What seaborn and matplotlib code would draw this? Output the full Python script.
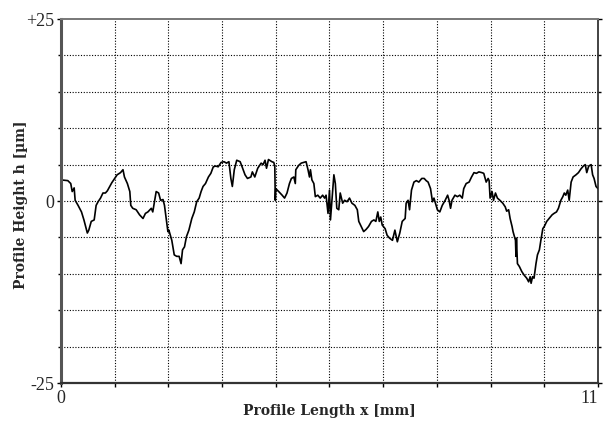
import matplotlib
matplotlib.use("Agg")
import matplotlib.pyplot as plt
import numpy as np
import pandas as pd
import seaborn as sns

# Surface roughness profile: position along the trace (mm) and height (µm)
x_mm = [
    0.00, 0.14, 0.20, 0.23, 0.27, 0.29, 0.35, 0.42, 0.47, 0.54, 0.57, 0.62, 0.68,
    0.72, 0.76, 0.81, 0.86, 0.91, 0.95, 1.00, 1.04, 1.10, 1.15, 1.22, 1.27, 1.30,
    1.36, 1.41, 1.43, 1.47, 1.54, 1.61, 1.68, 1.73, 1.78, 1.85, 1.88, 1.95, 2.00,
    2.04, 2.09, 2.12, 2.16, 2.19, 2.21, 2.27, 2.32, 2.37, 2.42, 2.46, 2.49, 2.53,
    2.57, 2.62, 2.68, 2.73, 2.78, 2.83, 2.87, 2.91, 2.96, 3.02, 3.07, 3.12, 3.17,
    3.22, 3.28, 3.34, 3.39, 3.44, 3.48, 3.51, 3.55, 3.60, 3.67, 3.71, 3.77, 3.82,
    3.89, 3.92, 3.97, 4.03, 4.10, 4.14, 4.18, 4.21, 4.25, 4.32, 4.36, 4.38, 4.39,
    4.40, 4.46, 4.53, 4.58, 4.63, 4.68, 4.72, 4.77, 4.80, 4.81, 4.87, 4.92, 4.97,
    5.02, 5.06, 5.09, 5.11, 5.14, 5.18, 5.21, 5.26, 5.31, 5.36, 5.40, 5.43, 5.47,
    5.50, 5.52, 5.55, 5.59, 5.62, 5.65, 5.69, 5.72, 5.77, 5.81, 5.86, 5.91, 5.96,
    6.02, 6.07, 6.10, 6.15, 6.20, 6.25, 6.30, 6.36, 6.41, 6.45, 6.49, 6.52, 6.55,
    6.58, 6.64, 6.68, 6.73, 6.79, 6.84, 6.89, 6.94, 6.99, 7.05, 7.07, 7.11, 7.14,
    7.18, 7.23, 7.28, 7.33, 7.39, 7.44, 7.48, 7.52, 7.57, 7.61, 7.64, 7.67, 7.71,
    7.76, 7.81, 7.87, 7.92, 7.95, 7.98, 8.01, 8.07, 8.12, 8.17, 8.22, 8.25, 8.30,
    8.36, 8.41, 8.46, 8.51, 8.56, 8.62, 8.66, 8.71, 8.75, 8.77, 8.79, 8.83, 8.86,
    8.90, 8.94, 8.99, 9.05, 9.10, 9.13, 9.17, 9.20, 9.24, 9.26, 9.31, 9.32, 9.33,
    9.35, 9.39, 9.44, 9.49, 9.54, 9.58, 9.61, 9.63, 9.66, 9.69, 9.73, 9.76, 9.80,
    9.83, 9.87, 9.90, 9.95, 10.00, 10.06, 10.10, 10.15, 10.19, 10.24, 10.28, 10.31,
    10.34, 10.38, 10.41, 10.45, 10.49, 10.55, 10.60, 10.65, 10.70, 10.74, 10.77,
    10.81, 10.86, 10.89, 10.92, 10.96, 11.00,
]
h_um = [
    2.9, 2.8, 2.4, 1.3, 1.8, 0.1, -0.6, -1.5, -2.6, -4.4, -4.0, -2.8, -2.6,
    -0.6, -0.1, 0.4, 1.1, 1.1, 1.4, 2.0, 2.5, 3.1, 3.6, 3.9, 4.3, 3.3,
    2.4, 1.3, -0.6, -1.0, -1.2, -1.9, -2.4, -1.7, -1.5, -1.0, -1.5, 1.3, 1.1,
    0.1, 0.2, -0.6, -2.6, -4.2, -4.0, -5.4, -7.4, -7.6, -7.6, -8.6, -6.7, -6.3,
    -4.9, -4.0, -2.4, -1.5, -0.1, 0.4, 1.3, 2.0, 2.4, 3.3, 3.8, 4.7, 4.8,
    4.7, 5.3, 5.4, 5.2, 5.4, 3.1, 2.0, 4.3, 5.6, 5.4, 4.7, 3.6, 3.1,
    3.3, 4.0, 3.3, 4.5, 5.2, 5.0, 5.6, 4.5, 5.7, 5.4, 5.3, 4.7, 0.1,
    1.7, 1.3, 0.8, 0.4, 1.1, 2.4, 3.1, 3.3, 2.4, 4.3, 4.9, 5.2, 5.3,
    5.4, 4.3, 3.3, 4.3, 2.9, 2.4, 0.6, 0.8, 0.4, 0.8, 0.4, 0.8, -1.7,
    1.5, -2.6, 0.1, 3.6, 2.4, -1.0, -1.2, 1.1, -0.3, 0.1, -0.1, 0.4, -0.3,
    -0.6, -1.2, -2.8, -3.5, -4.2, -3.9, -3.5, -2.8, -2.6, -2.8, -1.5, -2.8, -2.2,
    -3.3, -3.8, -4.7, -5.1, -5.4, -4.0, -5.6, -4.4, -2.8, -2.4, -0.3, 0.1, -1.2,
    1.5, 2.6, 2.8, 2.6, 3.1, 3.1, 2.8, 2.6, 1.7, -0.1, 0.4, -0.3, -1.2,
    -1.5, -0.6, 0.1, 0.8, 0.1, -1.0, 0.1, 0.8, 0.6, 0.8, 0.4, 1.7, 2.4,
    2.6, 3.3, 3.9, 3.8, 4.0, 3.9, 3.8, 2.6, 3.1, 2.8, 0.4, 1.3, 0.1,
    1.1, 0.4, 0.1, -0.3, -0.8, -1.4, -1.2, -2.4, -3.5, -4.2, -5.4, -7.6, -5.1,
    -8.6, -9.0, -9.7, -10.2, -10.6, -11.1, -10.4, -11.3, -10.4, -10.6, -8.6, -7.4, -6.7,
    -5.4, -3.8, -3.5, -2.8, -2.4, -1.9, -1.7, -1.5, -1.0, 0.1, 0.6, 1.1,
    0.8, 1.5, 0.1, 2.6, 3.3, 3.6, 3.9, 4.4, 4.8, 5.0, 3.9,
    4.8, 5.0, 3.6, 3.1, 2.0, 1.7,
]

x_ticks = [0, 11]
x_ticklabels = ["0", "11"]
y_ticks = [-25, 0, 25]
y_ticklabels = ["-25", "0", "+25"]

df = pd.DataFrame({"x": x_mm, "h": h_um})

sns.set_theme(style="white")
plt.rcParams["font.family"] = ["Liberation Serif", "DejaVu Serif"]

fig = plt.figure(figsize=(6.05, 4.28), dpi=100)
ax = fig.add_axes([0.1008, 0.1051, 0.8876, 0.8505])

sns.lineplot(data=df, x="x", y="h", ax=ax, color="black", linewidth=1.2,
             estimator=None, sort=False, legend=False)

ax.set_xlim(0, 11)
ax.set_ylim(-25, 25)

# dotted reference grid: 10 divisions on each axis
for gx in np.linspace(0, 11, 11)[1:-1]:
    ax.axvline(gx, color="black", linestyle=(0, (1, 1.5)), linewidth=0.8, zorder=0)
for gy in np.arange(-20, 25, 5):
    ax.axhline(gy, color="black", linestyle=(0, (1, 1.5)), linewidth=0.8, zorder=0)

ax.set_xticks(x_ticks)
ax.set_xticklabels(x_ticklabels, fontsize=13)
ax.set_yticks(y_ticks)
ax.set_yticklabels(y_ticklabels, fontsize=13)
ax.set_xticks(np.linspace(0, 11, 11), minor=True)
ax.set_yticks(np.arange(-25, 26, 5), minor=True)
ax.tick_params(axis="both", which="major", length=3, width=1, color="black",
               direction="out", pad=2)
ax.tick_params(axis="both", which="minor", length=3, width=1, color="black",
               direction="out")
ax.tick_params(axis="y", which="both", left=True, right=True)
ax.tick_params(axis="x", which="both", bottom=True, top=False)
ax.tick_params(axis="y", which="minor", right=True, length=2)
for lbl in ax.get_xticklabels():
    if lbl.get_text() == "11":
        lbl.set_horizontalalignment("right")
        lbl.set_x(1.0)

for side, sp in ax.spines.items():
    sp.set_visible(True)
ax.spines["left"].set_color("#555555")
ax.spines["left"].set_linewidth(2.2)
ax.spines["bottom"].set_color("#333333")
ax.spines["bottom"].set_linewidth(1.6)
ax.spines["top"].set_color("#777777")
ax.spines["top"].set_linewidth(1.4)
ax.spines["right"].set_color("#222222")
ax.spines["right"].set_linewidth(1.2)

ax.set_xlabel("Profile Length x [mm]", fontsize=10, fontweight="bold",
              family=["DejaVu Serif"])
ax.set_ylabel("Profile Height h [µm]", fontsize=10, fontweight="bold",
              family=["DejaVu Serif"])
ax.xaxis.set_label_coords(0.5, -0.058)
ax.yaxis.set_label_coords(-0.062, 0.49)

fig.savefig("out.png", dpi=100, facecolor="white")
